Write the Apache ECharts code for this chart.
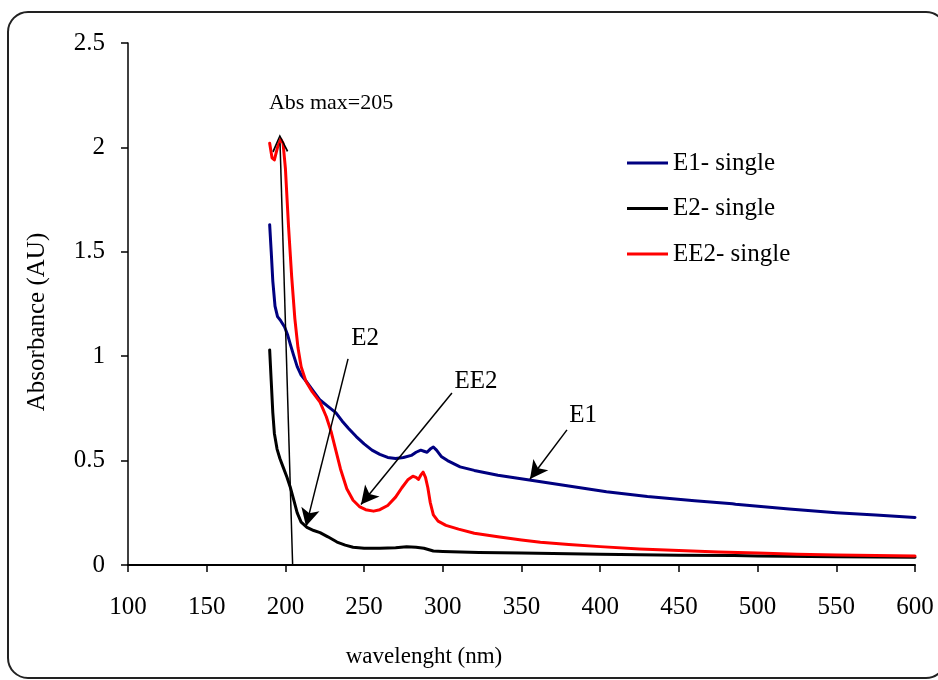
<!DOCTYPE html>
<html>
<head>
<meta charset="utf-8">
<script src="https://cdn.jsdelivr.net/npm/echarts@6/dist/echarts.min.js"></script>
<style>
  html, body { margin: 0; padding: 0; background: #fff; }
  #chart { width: 938px; height: 680px; }
</style>
</head>
<body>
<div id="chart"></div>
<script>
// ---- Data ----
var xTicks = [100, 150, 200, 250, 300, 350, 400, 450, 500, 550, 600];
var yTicks = [0, 0.5, 1, 1.5, 2, 2.5];

var e1Wave = [190, 191, 192, 193.4, 195, 197, 199.5, 201.5, 203, 205, 207.5, 210, 213.7, 218, 222, 227, 232, 236, 240, 245, 250, 255, 260, 265, 270, 275, 280, 283, 286, 288, 290, 292, 294, 296, 299, 303, 311, 320, 335, 355, 380, 404, 430, 460, 484, 485, 486, 520, 550, 575, 600];
var e1Abs  = [1.63, 1.50, 1.36, 1.24, 1.19, 1.17, 1.14, 1.10, 1.06, 1.01, 0.95, 0.91, 0.875, 0.83, 0.79, 0.76, 0.73, 0.69, 0.655, 0.615, 0.58, 0.55, 0.53, 0.515, 0.51, 0.515, 0.525, 0.54, 0.55, 0.545, 0.54, 0.555, 0.565, 0.55, 0.52, 0.50, 0.47, 0.453, 0.43, 0.407, 0.378, 0.351, 0.328, 0.308, 0.293, 0.302, 0.291, 0.268, 0.25, 0.239, 0.228];

var e2Wave = [190, 191, 192, 193, 194.7, 196.5, 198.5, 201, 203, 205, 207.5, 210, 213.7, 218, 222, 227, 232.8, 238, 243, 250, 260, 270, 277, 283, 288, 294, 300, 323, 350, 400, 450, 485, 500, 550, 600];
var e2Abs  = [1.03, 0.88, 0.73, 0.63, 0.555, 0.51, 0.47, 0.42, 0.375, 0.32, 0.25, 0.205, 0.18, 0.165, 0.155, 0.135, 0.11, 0.095, 0.085, 0.08, 0.08, 0.083, 0.087, 0.085, 0.08, 0.067, 0.065, 0.06, 0.057, 0.052, 0.047, 0.045, 0.043, 0.040, 0.037];

var ee2Wave = [190, 191.5, 193, 195, 197, 198.5, 200, 202, 204, 206, 208, 210, 213, 217, 222, 226, 229, 232, 235, 239, 243, 247, 251, 256, 260, 265, 270, 274, 278, 281, 283, 284.5, 286, 287.5, 289, 290.5, 292, 294, 297, 302, 310, 320, 335, 350, 362, 380, 400, 425, 450, 475, 500, 525, 550, 575, 600];
var ee2Abs  = [2.02, 1.95, 1.94, 2.00, 2.04, 2.02, 1.90, 1.62, 1.38, 1.18, 1.04, 0.95, 0.88, 0.83, 0.78, 0.71, 0.64, 0.55, 0.46, 0.365, 0.31, 0.28, 0.265, 0.258, 0.265, 0.285, 0.325, 0.37, 0.41, 0.425, 0.42, 0.41, 0.43, 0.445, 0.42, 0.37, 0.30, 0.24, 0.21, 0.19, 0.172, 0.152, 0.135, 0.12, 0.109, 0.098, 0.088, 0.077, 0.069, 0.062, 0.057, 0.052, 0.048, 0.045, 0.043];

var seriesNames = ['E1- single', 'E2- single', 'EE2- single'];

// annotation arrows: [start wavelength, start abs, end wavelength, end abs]
var arrowAbsMax = [204.6, 0, 196.6, 2.02];
var arrowE2  = [239.8, 0.987, 213.1, 0.185];
var arrowEE2 = [305.8, 0.824, 248.0, 0.29];
var arrowE1  = [378.9, 0.647, 355.4, 0.412];

// annotation texts: [text, wavelength, abs]
var noteTexts = [
  ['Abs max=205', 229, 2.213],
  ['E2', 250.6, 1.087],
  ['EE2', 321.1, 0.881],
  ['E1', 389.1, 0.714]
];

function zip(a, b) { return a.map(function (v, i) { return [v, b[i]]; }); }

var FONT = '"Liberation Serif", "DejaVu Serif", serif';
var chevron = 'path://M5,0 L10,9.3 L9.1,10 L5,1.8 L0.9,10 L0,9.3 Z';

function arrowItem(a, endSymbol, size) {
  return [
    { coord: [a[0], a[1]], symbol: 'none' },
    { coord: [a[2], a[3]], symbol: endSymbol, symbolSize: size }
  ];
}

function lineSeries(name, wave, abs, color, z) {
  return {
    name: name,
    type: 'line',
    data: zip(wave, abs),
    showSymbol: false,
    symbol: 'none',
    smooth: false,
    lineStyle: { color: color, width: 3, join: 'round', cap: 'round' },
    itemStyle: { color: color },
    z: z
  };
}

var chart = echarts.init(document.getElementById('chart'), null, { renderer: 'canvas' });

var redSeries = lineSeries(seriesNames[2], ee2Wave, ee2Abs, '#ff0000', 4);
redSeries.markLine = {
  silent: true,
  animation: false,
  label: { show: false },
  lineStyle: { color: '#000', width: 1.5, type: 'solid' },
  emphasis: { disabled: true },
  data: [
    arrowItem(arrowAbsMax, chevron, [16, 18]),
    arrowItem(arrowE2, 'arrow', [14, 18]),
    arrowItem(arrowEE2, 'arrow', [14, 18]),
    arrowItem(arrowE1, 'arrow', [14, 18])
  ]
};
redSeries.markPoint = {
  silent: true,
  animation: false,
  symbol: 'circle',
  symbolSize: 1,
  itemStyle: { color: 'rgba(0,0,0,0)' },
  label: {
    show: true,
    position: 'inside',
    color: '#000',
    fontFamily: FONT,
    fontSize: 25,
    formatter: function (p) { return p.name; }
  },
  data: noteTexts.map(function (t, i) {
    var d = { name: t[0], coord: [t[1], t[2]] };
    if (i === 0) d.label = { fontSize: 22 };
    return d;
  })
};

var option = {
  backgroundColor: '#ffffff',
  animation: false,
  textStyle: { fontFamily: FONT },
  grid: { left: 128, right: 23, top: 43, bottom: 115, containLabel: false },
  xAxis: {
    type: 'value',
    min: xTicks[0],
    max: xTicks[xTicks.length - 1],
    interval: 50,
    axisLine: { show: true, onZero: false, lineStyle: { color: '#000', width: 2 } },
    axisTick: { show: true, inside: false, length: 7, lineStyle: { color: '#000', width: 1.5 } },
    axisLabel: { color: '#000', fontSize: 25, fontFamily: FONT, margin: 30 },
    splitLine: { show: false }
  },
  yAxis: {
    type: 'value',
    min: yTicks[0],
    max: yTicks[yTicks.length - 1],
    interval: 0.5,
    axisLine: { show: true, lineStyle: { color: '#000', width: 1.5 } },
    axisTick: { show: true, inside: false, length: 7, lineStyle: { color: '#000', width: 1.5 } },
    axisLabel: { color: '#000', fontSize: 25, fontFamily: FONT, margin: 23 },
    splitLine: { show: false }
  },
  legend: {
    data: seriesNames,
    orient: 'vertical',
    left: 622,
    top: 145,
    icon: 'rect',
    itemWidth: 41,
    itemHeight: 3,
    itemGap: 19.5,
    textStyle: { color: '#000', fontSize: 25, fontFamily: FONT, lineHeight: 26 }
  },
  graphic: [
    {
      type: 'rect',
      shape: { x: 8, y: 12, width: 938, height: 666, r: 20 },
      style: { fill: 'none', stroke: '#222', lineWidth: 2 },
      silent: true,
      z: -1
    },
    {
      type: 'text',
      x: 37, y: 322,
      rotation: Math.PI / 2,
      style: { text: 'Absorbance (AU)', fill: '#000', font: '25px ' + FONT, align: 'center', verticalAlign: 'middle' }
    },
    {
      type: 'text',
      x: 424, y: 657,
      style: { text: 'wavelenght (nm)', fill: '#000', font: '23px ' + FONT, align: 'center', verticalAlign: 'middle' }
    }
  ],
  series: [
    lineSeries(seriesNames[0], e1Wave, e1Abs, '#000080', 3),
    lineSeries(seriesNames[1], e2Wave, e2Abs, '#000000', 2),
    redSeries
  ]
};

chart.setOption(option);
</script>
</body>
</html>
